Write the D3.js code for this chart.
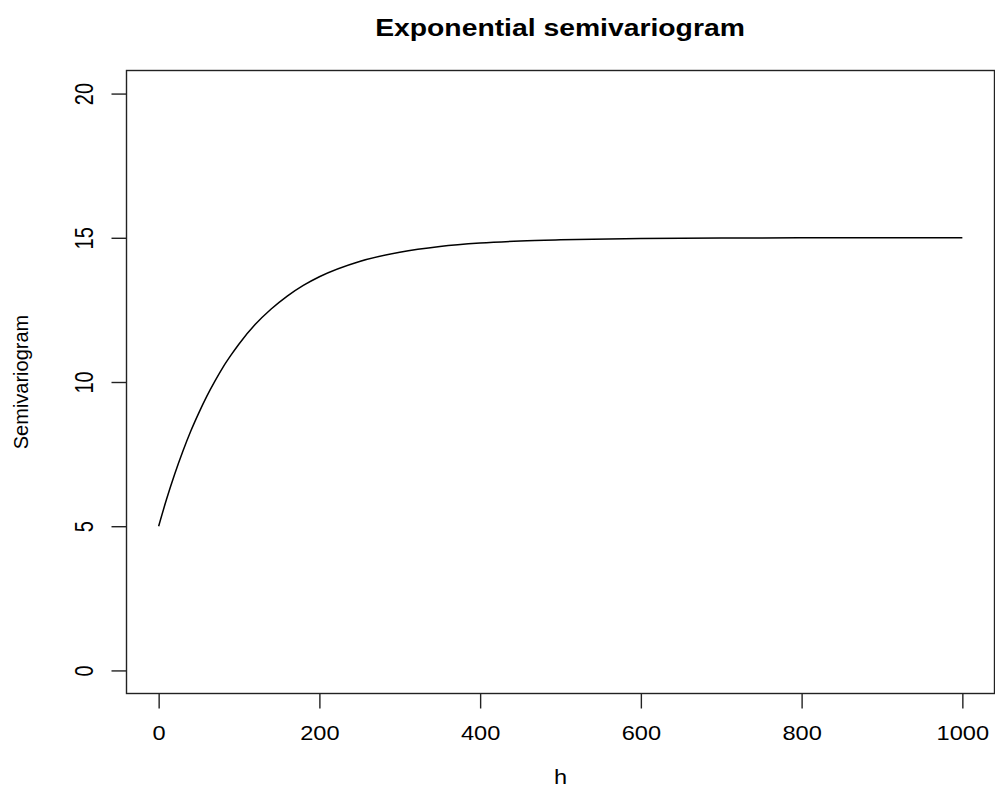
<!DOCTYPE html>
<html>
<head>
<meta charset="utf-8">
<script src="https://cdn.jsdelivr.net/npm/d3@7"></script>
<style>
  html, body { margin: 0; padding: 0; background: #fff; }
  svg { display: block; font-family: "Liberation Sans", Arial, sans-serif; }
</style>
</head>
<body>
<svg id="chart" width="995" height="788"></svg>
<script>
// Data
const lagH = [0, 10, 20, 30, 40, 50, 60, 70, 80, 90, 100, 120, 140, 160, 180, 200,
              250, 300, 350, 400, 450, 500, 600, 700, 800, 900, 1000];
const gammaValues = [5.00, 5.95, 6.81, 7.59, 8.30, 8.93, 9.51, 10.03, 10.51, 10.93, 11.32,
                     11.99, 12.53, 12.98, 13.35, 13.65, 14.18, 14.50, 14.70, 14.82, 14.89,
                     14.93, 14.975, 14.99, 15.00, 15.00, 15.00];
const xTicks = [0, 200, 400, 600, 800, 1000];
const yTicks = [0, 5, 10, 15, 20];
const titleText = "Exponential semivariogram";
const xLabel = "h";
const yLabel = "Semivariogram";

const svg = d3.select("#chart");
const box = { left: 126.5, right: 994.5, top: 70.5, bottom: 693.5 };

const x = d3.scaleLinear().domain([-40, 1040]).range([box.left, box.right]);
const y = d3.scaleLinear().domain([-0.8, 20.8]).range([box.bottom, box.top]);

const sx = 1.18; // horizontal stretch of the reference text

// plot box
svg.append("rect")
  .attr("x", box.left).attr("y", box.top)
  .attr("width", box.right - box.left).attr("height", box.bottom - box.top)
  .attr("fill", "none").attr("stroke", "#222").attr("stroke-width", 1.4);

// x axis
const xAxis = d3.axisBottom(x).tickValues(xTicks).tickSize(15).tickFormat(d3.format("d"));
const gx = svg.append("g").attr("transform", `translate(0,${box.bottom})`).call(xAxis);
gx.select(".domain").remove();
gx.selectAll(".tick line").attr("stroke", "#222").attr("stroke-width", 1.4);
gx.selectAll(".tick text")
  .attr("y", null).attr("dy", null)
  .attr("font-size", 20).attr("fill", "#000")
  .attr("font-family", "Liberation Sans, Arial, sans-serif")
  .attr("text-anchor", "middle")
  .attr("transform", `translate(0,46.5) scale(${sx},1)`);

// y axis
const yAxis = d3.axisLeft(y).tickValues(yTicks).tickSize(15).tickFormat(d3.format("d"));
const gy = svg.append("g").attr("transform", `translate(${box.left},0)`).call(yAxis);
gy.select(".domain").remove();
gy.selectAll(".tick line").attr("stroke", "#222").attr("stroke-width", 1.4);
gy.selectAll(".tick text")
  .attr("x", null).attr("dy", null)
  .attr("font-size", 20).attr("fill", "#000")
  .attr("font-family", "Liberation Sans, Arial, sans-serif")
  .attr("text-anchor", "middle")
  .attr("transform", `translate(-34,0) scale(1.3,1) rotate(-90)`);

// curve
const line = d3.line()
  .x((d, i) => x(lagH[i]))
  .y(d => y(d))
  .curve(d3.curveMonotoneX);
svg.append("path")
  .datum(gammaValues)
  .attr("d", line)
  .attr("fill", "none")
  .attr("stroke", "#000")
  .attr("stroke-width", 1.5);

// title
svg.append("text")
  .attr("transform", `translate(560,36) scale(${sx},1)`)
  .attr("text-anchor", "middle")
  .attr("font-size", 24).attr("font-weight", "bold")
  .text(titleText);

// axis labels
svg.append("text")
  .attr("transform", `translate(${(box.left + box.right) / 2},784) scale(${sx},1)`)
  .attr("text-anchor", "middle")
  .attr("font-size", 20)
  .text(xLabel);

svg.append("text")
  .attr("transform", `translate(28,${(box.top + box.bottom) / 2}) rotate(-90)`)
  .attr("text-anchor", "middle")
  .attr("font-size", 20)
  .text(yLabel);
</script>
</body>
</html>
